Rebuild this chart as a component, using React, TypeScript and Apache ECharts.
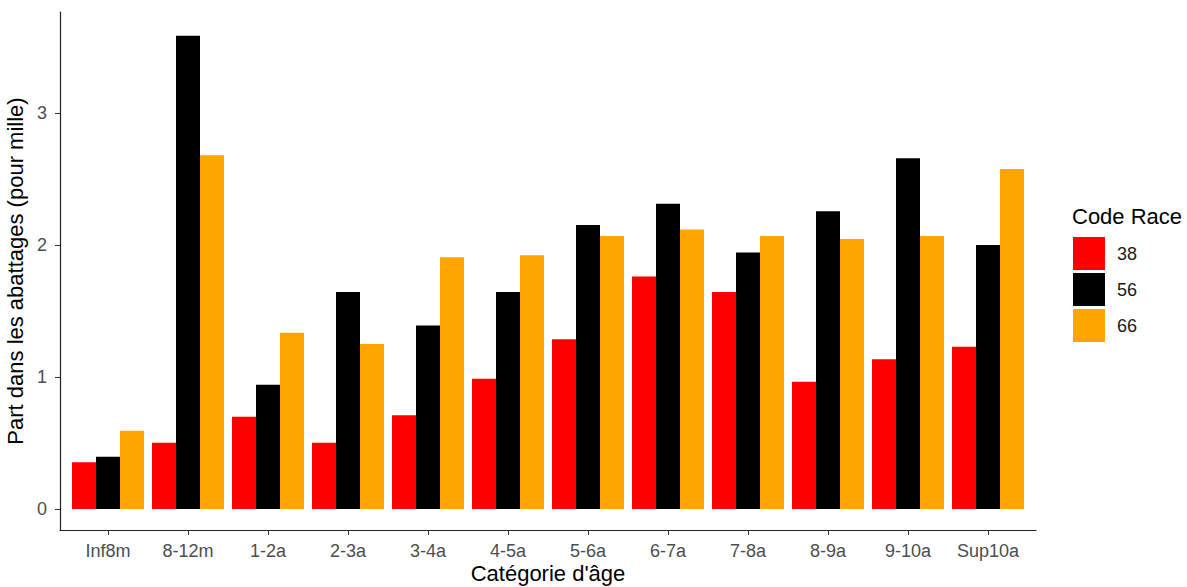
import React, { useEffect, useRef } from "react";
import * as echarts from "echarts";

const categories = ["Inf8m", "8-12m", "1-2a", "2-3a", "3-4a", "4-5a", "5-6a", "6-7a", "7-8a", "8-9a", "9-10a", "Sup10a"];
const race38 = [0.354, 0.502, 0.699, 0.502, 0.71, 0.987, 1.288, 1.763, 1.646, 0.964, 1.136, 1.23];
const race56 = [0.396, 3.589, 0.942, 1.646, 1.392, 1.646, 2.154, 2.316, 1.945, 2.258, 2.661, 2.002];
const race66 = [0.593, 2.684, 1.336, 1.252, 1.909, 1.924, 2.07, 2.119, 2.07, 2.048, 2.07, 2.578];
const yTicks = [0, 1, 2, 3];
const seriesNames = ["38", "56", "66"];
const colors = ["#FF0000", "#000000", "#FFA500"];

export default function App() {
  const ref = useRef<HTMLDivElement>(null);
  useEffect(() => {
    if (!ref.current) return;
    const chart = echarts.init(ref.current, undefined, { renderer: "svg" });
    const font = "'Liberation Sans', Arial, sans-serif";
    const values = [race38, race56, race66];
    const yMin = -0.16;
    const yMax = 3.77;
    chart.setOption({
      animation: false,
      backgroundColor: "#ffffff",
      textStyle: { fontFamily: font },
      title: {
        text: "Code Race",
        left: 1072,
        top: 205,
        padding: 0,
        textStyle: { fontFamily: font, fontSize: 22, fontWeight: "normal", color: "#000000" },
      },
      legend: {
        orient: "vertical",
        left: 1073,
        top: 237,
        padding: 0,
        itemWidth: 32,
        itemHeight: 33,
        itemGap: 3,
        icon: "rect",
        data: seriesNames,
        textStyle: { fontFamily: font, fontSize: 18, color: "#1a1a1a", padding: [0, 0, 0, 7] },
      },
      grid: [
        { left: 68, right: 159, top: 12, bottom: 57, containLabel: false, outerBoundsMode: "none" },
        { left: 60, right: 151, top: 12, bottom: 57, containLabel: false, outerBoundsMode: "none" },
      ],
      xAxis: [
        {
          type: "category",
          gridIndex: 0,
          data: categories,
          axisLine: { show: true, onZero: false, lineStyle: { color: "#222222", width: 1.2 } },
          axisTick: { show: true, interval: 0, alignWithLabel: true, length: 5, lineStyle: { color: "#333333" } },
          axisLabel: { interval: 0, fontFamily: font, fontSize: 18, color: "#4D4D4D", margin: 12 },
          splitLine: { show: false },
        },
        {
          type: "value",
          gridIndex: 1,
          min: 0,
          max: 1,
          name: "Catégorie d'âge",
          nameLocation: "middle",
          nameGap: 32,
          nameTextStyle: { fontFamily: font, fontSize: 22, color: "#000000" },
          axisLine: { show: true, onZero: false, lineStyle: { color: "#222222", width: 1.2 } },
          axisTick: { show: false },
          axisLabel: { show: false },
          splitLine: { show: false },
        },
      ],
      yAxis: [
        {
          type: "value",
          gridIndex: 0,
          min: yMin,
          max: yMax,
          show: false,
          splitLine: { show: false },
        },
        {
          type: "value",
          gridIndex: 1,
          min: yMin,
          max: yMax,
          name: "Part dans les abattages (pour mille)",
          nameLocation: "middle",
          nameGap: 27,
          nameRotate: 90,
          nameTextStyle: { fontFamily: font, fontSize: 22, color: "#000000" },
          axisLine: { show: true, onZero: false, lineStyle: { color: "#222222", width: 1.2 } },
          axisTick: { show: true, length: 5, customValues: yTicks, lineStyle: { color: "#333333" } },
          axisLabel: { fontFamily: font, fontSize: 18, color: "#4D4D4D", margin: 13, customValues: yTicks },
          splitLine: { show: false },
        },
      ],
      series: seriesNames.map((name, i) => ({
        name,
        type: "bar",
        xAxisIndex: 0,
        yAxisIndex: 0,
        data: values[i],
        barGap: "0%",
        barCategoryGap: "10%",
        itemStyle: { color: colors[i] },
      })),
    });
    return () => chart.dispose();
  }, []);
  return <div ref={ref} style={{ position: "absolute", left: 0, top: 0, width: 1187, height: 587 }} />;
}
